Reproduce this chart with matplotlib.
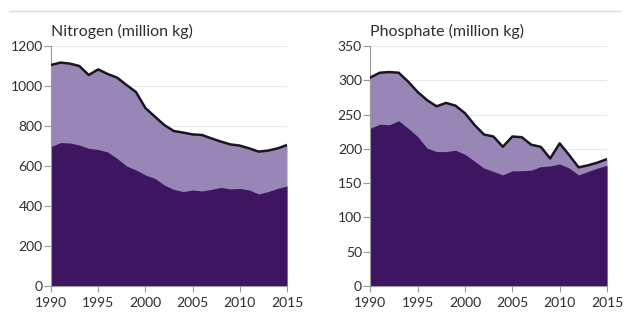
import matplotlib
matplotlib.use("Agg")
import matplotlib.pyplot as plt
from matplotlib.lines import Line2D

years = list(range(1990, 2016))

nitrogen_total = [1105, 1117, 1112, 1100, 1055, 1083, 1060, 1042, 1005, 970,
                  890, 847, 805, 775, 767, 758, 755, 738, 722, 708,
                  702, 688, 672, 677, 688, 705]
nitrogen_lower = [697, 717, 715, 705, 688, 683, 670, 638, 600, 580,
                  555, 538, 505, 483, 472, 480, 475, 483, 493, 485,
                  488, 480, 460, 472, 488, 500]

phosphate_total = [304, 311, 312, 311, 298, 283, 271, 262, 267, 263,
                   252, 235, 221, 218, 203, 218, 217, 206, 203, 186,
                   208, 191, 173, 176, 180, 185]
phosphate_lower = [230, 236, 235, 241, 230, 218, 201, 196, 196, 198,
                   192, 182, 172, 167, 162, 168, 168, 169, 174, 175,
                   178, 172, 162, 167, 172, 176]

titles = ["Nitrogen (million kg)", "Phosphate (million kg)"]
yticks_n = [0, 200, 400, 600, 800, 1000, 1200]
yticks_p = [0, 50, 100, 150, 200, 250, 300, 350]
xticks = [1990, 1995, 2000, 2005, 2010, 2015]

LIGHT = "#9886b6"
DARK = "#3d1560"
LINE = "#1a1620"
TXT = "#2e2e2e"
GRID = "#e9e9e9"
SPINE = "#9a9a9a"

plt.rcParams["font.family"] = ["Lato", "DejaVu Sans"]

fig = plt.figure(figsize=(6.26, 3.13), dpi=100)
fig.patch.set_facecolor("white")

W, H = 626, 313
def box(x0, x1, ytop, ybot):
    return [x0 / W, 1 - ybot / H, (x1 - x0) / W, (ybot - ytop) / H]

ax1 = fig.add_axes(box(51, 287, 46, 286))
ax2 = fig.add_axes(box(370.3, 607, 46, 286))

specs = [
    (ax1, nitrogen_total, nitrogen_lower, yticks_n, titles[0]),
    (ax2, phosphate_total, phosphate_lower, yticks_p, titles[1]),
]

for ax, tot, low, yt, title in specs:
    ax.set_xlim(1990, 2015)
    ax.set_ylim(0, yt[-1])
    for v in yt[1:]:
        ax.axhline(v, color=GRID, lw=0.8, zorder=0)
    ax.fill_between(years, 0, tot, color=LIGHT, lw=0, zorder=1)
    ax.fill_between(years, 0, low, color=DARK, lw=0, zorder=2)
    ax.plot(years, tot, color=LINE, lw=1.8, zorder=3, solid_joinstyle="round")
    ax.set_yticks(yt)
    ax.set_xticks(xticks)
    ax.set_yticklabels([str(v) for v in yt])
    ax.set_xticklabels([str(v) for v in xticks])
    for s in ["top", "right"]:
        ax.spines[s].set_visible(False)
    for s in ["left", "bottom"]:
        ax.spines[s].set_color(SPINE)
        ax.spines[s].set_linewidth(0.8)
    ax.tick_params(axis="y", colors=SPINE, labelcolor=TXT, labelsize=10,
                   length=5, width=0.8, pad=1)
    ax.tick_params(axis="x", colors=SPINE, labelcolor=TXT, labelsize=10,
                   length=4, width=0.8, pad=4)
    ax.set_facecolor("white")
    ax.text(0.0, 1.0625, title, transform=ax.transAxes, ha="left", va="center",
            fontsize=11.5, color=TXT)

fig.add_artist(Line2D([10 / W, 620 / W], [1 - 11 / H, 1 - 11 / H],
                      color="#dcdcdc", lw=1.0))

fig.savefig("out.png", dpi=100, facecolor="white")
